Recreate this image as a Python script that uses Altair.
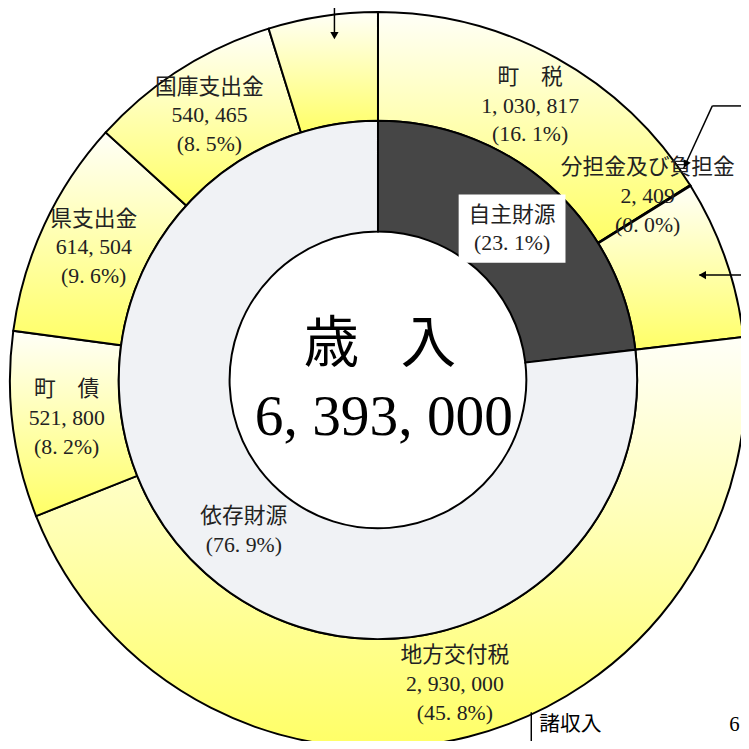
import math
import altair as alt
import pandas as pd

# ---- data ----
TOTAL = 6393000
seg_names = ["町　税", "分担金及び負担金", "", "地方交付税", "町　債", "県支出金", "国庫支出金", ""]
seg_values = [1030817, 2409, 446000, 2930000, 521800, 614504, 540465, 307005]
seg_group = ["自主財源", "自主財源", "自主財源", "依存財源", "依存財源", "依存財源", "依存財源", "依存財源"]
label_radius = [317, 330, 317, 317, 317, 317, 317, 317]
label_shift_deg = [0, -2.4, 0, 0, 0, 0, 0, 0]

inner_names = ["自主財源", "依存財源"]
inner_colors = ["#464646", "#F0F2F5"]

center_title = "歳\u2002 入"
center_total = "6, 393, 000"

FONT = "Liberation Serif, Noto Sans CJK JP"
W, H = 741, 733
CX, CY = 374, 372
R_OUT, R_MID, R_IN = 372, 262, 150
LH = 29


def fmt_num(v):
    return f"{v:,}".replace(",", ", ")


def fmt_pct(v):
    return "(" + f"{v / TOTAL * 100:.1f}".replace(".", ". ") + "%)"


outer = pd.DataFrame({
    "idx": list(range(len(seg_values))),
    "name": seg_names,
    "value": seg_values,
    "group": seg_group,
    "lr": label_radius,
    "shift": [d / 360 * TOTAL for d in label_shift_deg],
})
outer["label"] = [
    (n + "\n" + fmt_num(v) + "\n" + fmt_pct(v)) if n else ""
    for n, v in zip(seg_names, seg_values)
]

inner_vals = [sum(v for v, g in zip(seg_values, seg_group) if g == nm) for nm in inner_names]
inner = pd.DataFrame({
    "idx": [0, 1],
    "name": inner_names,
    "value": inner_vals,
    "col": inner_colors,
})
inner["label"] = [n + "\n" + fmt_pct(v) for n, v in zip(inner_names, inner_vals)]

theta = alt.Theta("value:Q", stack=True)
order = alt.Order("idx:Q")
mid_theta = alt.Theta("mid:Q", stack=None)

gradient = alt.Gradient(
    gradient="linear",
    stops=[alt.GradientStop(color="#FFFFF8", offset=0),
           alt.GradientStop(color="#FFFF66", offset=1)],
    x1=0, x2=0, y1=0, y2=1,
)

outer_arc = alt.Chart(outer).mark_arc(
    outerRadius=R_OUT, innerRadius=R_MID, fill=gradient, stroke="black", strokeWidth=2
).encode(theta=theta, order=order, x=alt.value(CX), y=alt.value(CY))

outer_text = alt.Chart(outer).transform_stack(
    stack="value", groupby=[], as_=["v0", "v1"], sort=[alt.SortField("idx")]
).transform_calculate(mid="(datum.v0 + datum.v1) / 2 + datum.shift").mark_text(
    lineBreak="\n", lineHeight=LH, fontSize=22, font=FONT, color="#222222",
    align="center", baseline="middle", dy=-LH
).encode(theta=mid_theta, radius=alt.Radius("lr:Q", scale=None),
         text="label:N", x=alt.value(CX), y=alt.value(CY))

inner_arc = alt.Chart(inner).mark_arc(
    outerRadius=R_MID, innerRadius=R_IN, stroke="black", strokeWidth=2
).encode(theta=theta, order=order, fill=alt.Fill("col:N", scale=None),
         x=alt.value(CX), y=alt.value(CY))

# white box behind the 自主財源 label
mid = inner_vals[0] / TOTAL * math.pi
bx = CX + 204 * math.sin(mid)
by = CY - 204 * math.cos(mid)
box_df = pd.DataFrame({"x": [bx - 54], "x2": [bx + 54], "y": [by - 35], "y2": [by + 34]})
box = alt.Chart(box_df).mark_rect(fill="white").encode(
    x=alt.X("x:Q", scale=None), x2="x2:Q", y=alt.Y("y:Q", scale=None), y2="y2:Q")

inner_text = alt.Chart(inner).transform_stack(
    stack="value", groupby=[], as_=["v0", "v1"], sort=[alt.SortField("idx")]
).transform_calculate(mid="(datum.v0 + datum.v1) / 2").mark_text(
    lineBreak="\n", lineHeight=LH, fontSize=22, font=FONT, color="#222222",
    align="center", baseline="middle", radius=204, dy=-LH / 2
).encode(theta=mid_theta, text="label:N", x=alt.value(CX), y=alt.value(CY))

title_df = pd.DataFrame({"t": [center_title, center_total], "dy": [-35, 39],
                         "dx": [2, 6], "fs": [56, 58]})
center_text = alt.Chart(title_df).transform_calculate(
    yy=f"{CY} + datum.dy", xx=f"{CX} + datum.dx"
).mark_text(font=FONT, color="black", align="center", baseline="middle").encode(
    text="t:N", x=alt.X("xx:Q", scale=None),
    y=alt.Y("yy:Q", scale=None), size=alt.Size("fs:Q", scale=None))

# leader lines for labels outside the picture
lines = pd.DataFrame({
    "x": [330, 712, 712, 699, 529, 529],
    "y": [-8, 95, 95, 266, 708, 739],
    "x2": [330, 741, 683, 741, 529, 741],
    "y2": [22, 95, 158, 266, 745, 739],
})
leaders = alt.Chart(lines).mark_rule(color="black", strokeWidth=1.5).encode(
    x=alt.X("x:Q", scale=None), y=alt.Y("y:Q", scale=None), x2="x2:Q", y2="y2:Q")

heads = pd.DataFrame({
    "x": [330, 685, 702],
    "y": [24, 154, 266],
    "shape": ["triangle-down", "triangle-down", "triangle-left"],
    "ang": [0, 25, 0],
})
arrowheads = alt.Chart(heads).mark_point(filled=True, color="black", size=70, opacity=1).encode(
    x=alt.X("x:Q", scale=None), y=alt.Y("y:Q", scale=None),
    shape=alt.Shape("shape:N", scale=None), angle=alt.Angle("ang:Q", scale=None))

side_df = pd.DataFrame({"t": ["諸収入", "6"], "x": [537, 729], "y": [721, 721]})
side_text = alt.Chart(side_df).mark_text(
    font=FONT, fontSize=21, color="black", align="left", baseline="middle"
).encode(text="t:N", x=alt.X("x:Q", scale=None), y=alt.Y("y:Q", scale=None))

chart = alt.layer(
    outer_arc, inner_arc, box, outer_text, inner_text, center_text,
    leaders, arrowheads, side_text
).properties(
    width=W, height=H, padding=0, autosize=alt.AutoSizeParams(type="none")
).configure_view(stroke=None)

chart.save("out.html", embed_options={"renderer": "svg", "actions": False})
